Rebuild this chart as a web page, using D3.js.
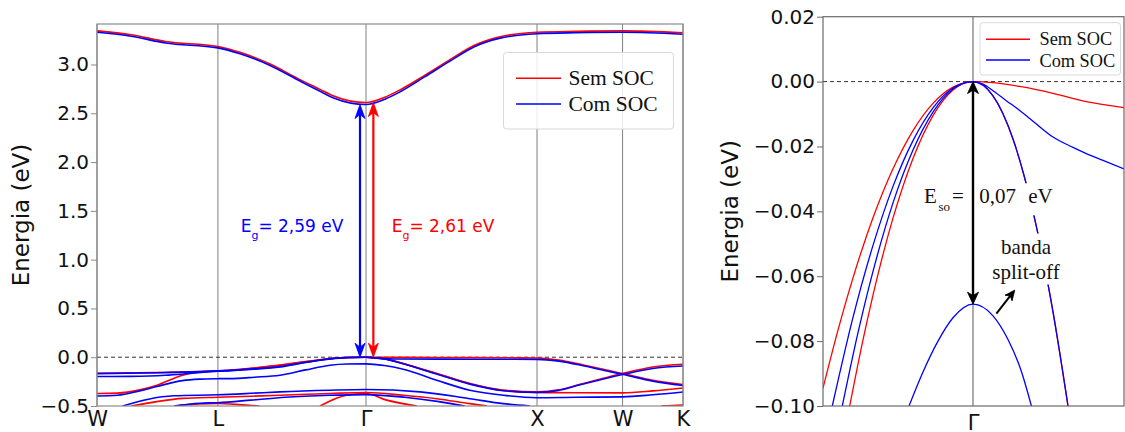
<!DOCTYPE html>
<html>
<head>
<meta charset="utf-8">
<script src="https://cdn.jsdelivr.net/npm/d3@7"></script>
<style>
  body { margin: 0; background: #fff; }
  svg { display: block; }
</style>
</head>
<body>
<svg id="chart" width="1125" height="432"></svg>
<script>
// ---- data ----
const kLabels = ["W", "L", "Γ", "X", "W", "K"];
const kTicks = [0, 0.7071, 1.5731, 2.5731, 3.0731, 3.4267];
const eTicksFull = [-0.5, 0, 0.5, 1.0, 1.5, 2.0, 2.5, 3.0];
const eTicksZoom = [-0.1, -0.08, -0.06, -0.04, -0.02, 0, 0.02];
const seriesNames = ["Sem SOC", "Com SOC"];
const seriesColors = ["#ff0000", "#0000ff"];

// bands along W-L-Γ-X-W-K, points are [k, E(eV)]
const semSocBands = [
  [[0,3.345],[0.2,3.305],[0.4,3.235],[0.707,3.185],[0.836,3.125],[1.012,3.005],[1.187,2.845],[1.304,2.745],[1.38,2.68],[1.573,2.61],[1.684,2.665],[1.772,2.74],[1.918,2.89],[2.064,3.05],[2.21,3.2],[2.357,3.285],[2.573,3.33],[2.8,3.34],[3.073,3.345],[3.427,3.325]],
  [[0,-0.165],[0.35,-0.158],[0.707,-0.14],[0.778,-0.133],[0.92,-0.11],[1.07,-0.08],[1.22,-0.045],[1.363,-0.014],[1.46,-0.003],[1.573,0],[1.8,-0.002],[2.1,-0.004],[2.4,-0.006],[2.573,-0.008],[2.7,-0.03],[2.85,-0.082],[3.0,-0.14],[3.073,-0.167],[3.25,-0.236],[3.427,-0.28]],
  [[0,-0.372],[0.12,-0.368],[0.25,-0.335],[0.35,-0.287],[0.5,-0.185],[0.6,-0.15],[0.707,-0.142],[0.778,-0.135],[0.92,-0.112],[1.07,-0.083],[1.22,-0.047],[1.363,-0.015],[1.46,-0.003],[1.573,0],[1.62,-0.005],[1.694,-0.02],[1.791,-0.065],[1.986,-0.167],[2.18,-0.27],[2.376,-0.338],[2.573,-0.355],[2.7,-0.335],[2.82,-0.28],[2.95,-0.22],[3.073,-0.167],[3.25,-0.1],[3.427,-0.072]],
  [[1.573,0],[1.62,-0.005],[1.694,-0.021],[1.791,-0.066],[1.986,-0.168],[2.18,-0.272],[2.376,-0.34],[2.573,-0.36],[2.8,-0.364],[3.073,-0.365],[3.25,-0.345],[3.427,-0.315]],
  [[0.2,-0.5],[0.35,-0.455],[0.5,-0.422],[0.707,-0.41],[0.9,-0.4],[1.07,-0.39],[1.363,-0.372],[1.573,-0.362],[1.791,-0.39],[1.986,-0.425],[2.18,-0.476],[2.28,-0.5]],
  [[1.304,-0.5],[1.4,-0.42],[1.46,-0.39],[1.573,-0.372],[1.694,-0.44],[1.87,-0.5]],
  [[0.45,-0.5],[0.6,-0.478],[0.707,-0.474],[0.85,-0.488],[0.95,-0.5]],
  [[3.3,-0.5],[3.427,-0.49]]
];
const comSocBands = [
  [[0,3.33],[0.2,3.29],[0.4,3.22],[0.707,3.17],[0.836,3.11],[1.012,2.99],[1.187,2.83],[1.304,2.725],[1.38,2.66],[1.573,2.59],[1.684,2.645],[1.772,2.72],[1.918,2.875],[2.064,3.035],[2.21,3.185],[2.357,3.27],[2.573,3.315],[2.8,3.325],[3.073,3.33],[3.427,3.31]],
  [[0,-0.168],[0.35,-0.16],[0.707,-0.14],[0.778,-0.135],[0.92,-0.122],[1.07,-0.1],[1.22,-0.055],[1.363,-0.018],[1.46,-0.004],[1.573,0],[1.65,-0.012],[1.75,-0.018],[2.0,-0.02],[2.3,-0.021],[2.573,-0.022],[2.7,-0.04],[2.85,-0.09],[3.0,-0.148],[3.073,-0.175],[3.25,-0.245],[3.427,-0.29]],
  [[0,-0.198],[0.2,-0.196],[0.4,-0.185],[0.55,-0.165],[0.707,-0.143],[0.778,-0.137],[0.92,-0.118],[1.07,-0.095],[1.22,-0.052],[1.363,-0.016],[1.46,-0.003],[1.573,0],[1.62,-0.006],[1.694,-0.022],[1.791,-0.068],[1.986,-0.172],[2.18,-0.276],[2.376,-0.343],[2.573,-0.36],[2.7,-0.34],[2.82,-0.285],[2.95,-0.228],[3.073,-0.178],[3.25,-0.115],[3.427,-0.09]],
  [[0,-0.397],[0.12,-0.39],[0.25,-0.345],[0.35,-0.3],[0.5,-0.24],[0.6,-0.225],[0.707,-0.22],[0.778,-0.219],[0.92,-0.205],[1.07,-0.185],[1.22,-0.13],[1.363,-0.082],[1.46,-0.07],[1.573,-0.068],[1.68,-0.085],[1.791,-0.123],[1.986,-0.236],[2.18,-0.338],[2.376,-0.39],[2.573,-0.415],[2.8,-0.41],[3.073,-0.406],[3.25,-0.385],[3.427,-0.356]],
  [[0.15,-0.5],[0.3,-0.43],[0.45,-0.395],[0.707,-0.385],[0.9,-0.37],[1.07,-0.355],[1.363,-0.338],[1.573,-0.331],[1.889,-0.355],[2.18,-0.425],[2.376,-0.476],[2.532,-0.5]],
  [[0.45,-0.5],[0.6,-0.472],[0.707,-0.466],[0.9,-0.44],[1.1,-0.41],[1.363,-0.39],[1.573,-0.383],[1.8,-0.41],[2.0,-0.455],[2.15,-0.5]]
];

// zoom on the valence band top around Γ (k relative to Γ)
const semSocZoom = [
  [[-0.15,-0.0945],[-0.135,-0.0766],[-0.12,-0.0605],[-0.1,-0.042],[-0.08,-0.0269],[-0.06,-0.0151],[-0.04,-0.0067],[-0.02,-0.0017],[0,0],[0.02,-0.0003],[0.0467,-0.0015],[0.08,-0.0036],[0.1133,-0.0062],[0.151,-0.008]],
  [[-0.1233,-0.1],[-0.11,-0.0796],[-0.1,-0.0658],[-0.08,-0.0421],[-0.06,-0.0237],[-0.04,-0.0105],[-0.02,-0.0026],[0,0],[0.02,-0.0044],[0.04,-0.0177],[0.06,-0.04],[0.08,-0.071],[0.095,-0.1]]
];
const comSocZoom = [
  [[-0.1407,-0.1],[-0.12,-0.0727],[-0.1,-0.0505],[-0.08,-0.0323],[-0.06,-0.0182],[-0.04,-0.0081],[-0.02,-0.002],[0,0],[0.01,-0.0008],[0.02,-0.0028],[0.033,-0.0058],[0.0467,-0.0089],[0.06,-0.0122],[0.08,-0.0171],[0.1,-0.0203],[0.1133,-0.0222],[0.13,-0.0243],[0.151,-0.0269]],
  [[-0.1307,-0.1],[-0.115,-0.0774],[-0.1,-0.0585],[-0.08,-0.0374],[-0.06,-0.0211],[-0.04,-0.0094],[-0.02,-0.0023],[0,0],[0.02,-0.0044],[0.04,-0.0177],[0.06,-0.04],[0.08,-0.071],[0.095,-0.1]],
  [[-0.064,-0.1],[-0.05,-0.0895],[-0.035,-0.08],[-0.02,-0.0728],[0,-0.0686],[0.02,-0.0722],[0.035,-0.0795],[0.048,-0.089],[0.0584,-0.1]]
];

const gapSemSoc = 2.61, gapComSoc = 2.59, splitOffTop = -0.0686;

// ---- setup ----
const SANS = "DejaVu Sans", SERIF = "Liberation Serif";
const svg = d3.select("#chart");
const defs = svg.append("defs");

const xL = d3.scaleLinear().domain([0, 3.4267]).range([97, 683]);
const yL = d3.scaleLinear().domain([-0.5, 3.415]).range([406, 24]);
const xR = d3.scaleLinear().domain([-0.15, 0.151]).range([823, 1124]);
const yR = d3.scaleLinear().domain([-0.1, 0.02]).range([406, 16.7]);

const panels = [
  {id: "full", x: xL, y: yL, sem: semSocBands, com: comSocBands, ticks: eTicksFull, fmt: d3.format(".1f"),
   kt: kTicks, kl: kLabels, lw: 1.6, frame: "#8a8a8a", grid: "#8a8a8a", labelX: 28.5, xPad: 5, xFont: 21},
  {id: "zoom", x: xR, y: yR, sem: semSocZoom, com: comSocZoom, ticks: eTicksZoom, fmt: d3.format(".2f"),
   kt: [0], kl: ["Γ"], lw: 1.3, frame: "#6a6a6a", grid: "#6a6a6a", labelX: 738, xPad: 9, xFont: 21}
];

panels.forEach(p => {
  const [x0, x1] = p.x.range(), [y0, y1] = p.y.range();
  const g = svg.append("g");

  defs.append("clipPath").attr("id", "clip-" + p.id)
    .append("rect").attr("x", x0).attr("y", y1).attr("width", x1 - x0).attr("height", y0 - y1);

  // vertical lines at the high symmetry points
  g.selectAll(".kline").data(p.kt).enter().append("line")
    .attr("x1", d => p.x(d)).attr("x2", d => p.x(d))
    .attr("y1", y1).attr("y2", y0)
    .attr("stroke", p.grid).attr("stroke-width", 1.1)

  // fermi level
  g.append("line")
    .attr("x1", x0).attr("x2", x1)
    .attr("y1", p.y(0)).attr("y2", p.y(0))
    .attr("stroke", "#333").attr("stroke-width", 1).attr("stroke-dasharray", "4,3")

  const line = d3.line().x(d => p.x(d[0])).y(d => p.y(d[1])).curve(d3.curveMonotoneX);
  const bands = g.append("g").attr("clip-path", `url(#clip-${p.id})`);
  [p.sem, p.com].forEach((set, si) => {
    bands.selectAll(".b" + si).data(set).enter().append("path")
      .attr("d", line)
      .attr("fill", "none")
      .attr("stroke", seriesColors[si])
      .attr("stroke-width", p.lw)
  });

  // axes
  const ay = g.append("g").attr("transform", `translate(${x0},0)`)
    .call(d3.axisLeft(p.y).tickValues(p.ticks).tickFormat(p.fmt).tickSize(6).tickPadding(2));
  ay.select(".domain").remove();
  ay.selectAll("line").attr("stroke", p.frame);
  ay.selectAll("text").attr("font-family", SANS).attr("font-size", "20px").attr("fill", "#111");

  const ax = g.append("g").attr("transform", `translate(0,${y0})`)
    .call(d3.axisBottom(p.x).tickValues(p.kt).tickFormat((d, i) => p.kl[i]).tickSize(0).tickPadding(p.xPad));
  ax.select(".domain").remove();
  ax.selectAll("text").attr("font-family", SANS).attr("font-size", p.xFont + "px").attr("fill", "#111");

  g.append("rect")
    .attr("x", x0).attr("y", y1).attr("width", x1 - x0).attr("height", y0 - y1)
    .attr("fill", "none").attr("stroke", p.frame).attr("stroke-width", 1.2)

  g.append("text")
    .attr("transform", `translate(${p.labelX},${(y0 + y1) / 2}) rotate(-90)`)
    .attr("text-anchor", "middle")
    .attr("font-family", SANS).attr("font-size", "23px").attr("fill", "#111")
    .text("Energia (eV)")
});

// ---- arrows ----
function head(g, x, y, angle, color, len, wid) {
  g.append("path")
    .attr("d", `M0,0L${-wid / 2},${len}L0,${len * 0.72}L${wid / 2},${len}Z`)
    .attr("transform", `translate(${x},${y}) rotate(${angle})`)
    .attr("fill", color).attr("stroke", color).attr("stroke-width", 0.8).attr("stroke-linejoin", "round")
}
function doubleArrow(g, x, ya, yb, color, w, len, wid) {
  g.append("line").attr("x1", x).attr("x2", x).attr("y1", ya + len * 0.7).attr("y2", yb - len * 0.7)
    .attr("stroke", color).attr("stroke-width", w)
  head(g, x, ya, 0, color, len, wid)
  head(g, x, yb, 180, color, len, wid)
}

const ann = svg.append("g");
// band gap arrows
doubleArrow(ann, xL(1.538), yL(gapComSoc), yL(0), seriesColors[1], 2.2, 14, 10);
doubleArrow(ann, xL(1.616), yL(gapSemSoc), yL(0), seriesColors[0], 2.2, 14, 10);

// gap labels
[[0.84, gapComSoc, 1], [1.723, gapSemSoc, 0]].forEach(([k, v, si]) => {
  const t = ann.append("text")
    .attr("x", xL(k)).attr("y", yL(1.286))
    .attr("font-family", SANS).attr("font-size", "17px").attr("fill", seriesColors[si]);
  t.append("tspan").text("E");
  t.append("tspan").attr("font-size", "11px").attr("dy", 7).text("g");
  t.append("tspan").attr("dy", -7).text("= " + d3.format(".2f")(v).replace(".", ",") + " eV");
});

// labels of the zoom panel, on white boxes that hide the band below
function boxed(g, build) {
  const grp = g.append("g");
  const bg = grp.append("rect").attr("fill", "#fff");
  const txt = grp.append("g");
  build(txt);
  const b = txt.node().getBBox();
  bg.attr("x", b.x - 3).attr("y", b.y - 1).attr("width", b.width + 6).attr("height", b.height + 2);
}
boxed(ann, t => {
  const txt = t.append("text").attr("y", yR(-0.0375))
    .attr("font-family", SERIF).attr("font-size", "21px").attr("fill", "#111");
  txt.append("tspan").attr("x", xR(-0.049)).text("E");
  txt.append("tspan").attr("x", xR(-0.0345)).attr("dy", 8).attr("font-size", "13px").text("so");
  txt.append("tspan").attr("x", xR(-0.021)).attr("dy", -8).text("=");
  txt.append("tspan").attr("x", xR(0.0063)).text(d3.format(".2f")(-splitOffTop).replace(".", ","));
  txt.append("tspan").attr("x", xR(0.0553)).text("eV");
});
boxed(ann, t => {
  t.append("text").attr("x", xR(0.053)).attr("y", yR(-0.053)).attr("text-anchor", "middle")
    .attr("font-family", SERIF).attr("font-size", "21px").attr("fill", "#111").text("banda");
  t.append("text").attr("x", xR(0.053)).attr("y", yR(-0.0607)).attr("text-anchor", "middle")
    .attr("font-family", SERIF).attr("font-size", "21px").attr("fill", "#111").text("split-off");
});

// spin-orbit splitting arrow
doubleArrow(ann, xR(0), yR(0), yR(splitOffTop), "#000", 2.4, 12, 11);
// pointer to the split-off band
{
  const ax0 = xR(0.0234), ay0 = yR(-0.0715), ax1 = xR(0.0417), ay1 = yR(-0.0643);
  const ang = Math.atan2(ax1 - ax0, -(ay1 - ay0)) * 180 / Math.PI;
  const len = 10, ux = (ax1 - ax0), uy = (ay1 - ay0), n = Math.hypot(ux, uy);
  ann.append("line").attr("x1", ax0).attr("y1", ay0)
    .attr("x2", ax1 - ux / n * len * 0.7).attr("y2", ay1 - uy / n * len * 0.7)
    .attr("stroke", "#000").attr("stroke-width", 2)
  head(ann, ax1, ay1, ang, "#000", len, 9);
}

// ---- legends ----
function legend(x, y, w, h, lx0, lx1, rows, tx, base, fs) {
  const g = svg.append("g");
  g.append("rect").attr("x", x).attr("y", y).attr("width", w).attr("height", h).attr("rx", 3)
    .attr("fill", "#fff").attr("fill-opacity", 0.85).attr("stroke", "#d9d9d9").attr("stroke-width", 1)
  seriesNames.forEach((name, i) => {
    g.append("line").attr("x1", lx0).attr("x2", lx1).attr("y1", rows[i]).attr("y2", rows[i])
      .attr("stroke", seriesColors[i]).attr("stroke-width", 1.5)
    g.append("text").attr("x", tx).attr("y", base[i])
      .attr("font-family", SERIF).attr("font-size", fs + "px").attr("fill", "#111").text(name)
  });
}
legend(503.5, 52.5, 170, 76.5, 516, 561, [78.3, 104], 568.5, [85, 110.7], 21.5);
legend(980, 22.7, 140.5, 52.3, 986, 1030, [39.3, 60], 1039.5, [45, 66.7], 18.3);
</script>
</body>
</html>
